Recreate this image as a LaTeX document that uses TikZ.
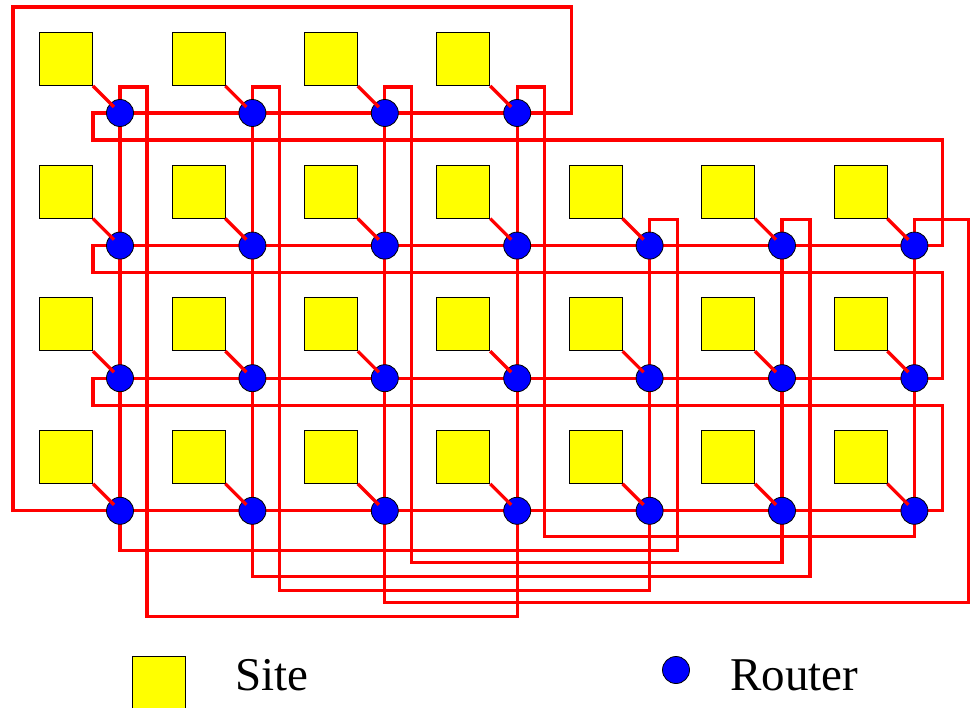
\documentclass[tikz,border=0pt]{standalone}
\usepackage{fontspec}
\setmainfont{Liberation Serif}
\newfontfamily\keyfont{Liberation Serif}
\usetikzlibrary{calc}
\pgfdeclarelayer{wires}
\pgfsetlayers{wires,main}
\definecolor{SiteYellow}{RGB}{255,255,0}
\definecolor{RouterBlue}{RGB}{0,0,255}
\definecolor{WireRed}{RGB}{255,0,0}

\begin{document}
\begin{tikzpicture}[
  x=1pt, y=-1pt,
  router/.style={circle, draw=black, line width=0.8pt, fill=RouterBlue,
                 minimum size=27pt, inner sep=0pt},
  site/.style={rectangle, draw=black, line width=0.8pt, fill=SiteYellow,
               minimum size=53pt, inner sep=0pt},
  wire/.style={draw=WireRed, line width=3.3pt},
  legend/.style={font=\keyfont\fontsize{47}{50}\selectfont, inner sep=0pt, anchor=base west}
]
\useasboundingbox (0,0) rectangle (975,708);

% routers, each with its site
\foreach \i/\n in {0/3, 1/6, 2/6, 3/6} {
  \foreach \j in {0,...,\n} {
    \node[router] (r-\i-\j) at ({120+132.4*\j},{113+132.6*\i}) {};
    \node[site, anchor=south east] (s-\i-\j) at ($(r-\i-\j)+(-27,-27)$) {};
    \draw[wire] (s-\i-\j.south east) -- ($(r-\i-\j)+(-6,-6)$);
  }
}

\begin{pgfonlayer}{wires}
% rows and columns
\draw[wire] (r-0-0.center) -- (r-0-3.center);
\foreach \i in {1,2,3} \draw[wire] (r-\i-0.center) -- (r-\i-6.center);
\foreach \j in {0,...,3} \draw[wire] (r-0-\j.center) -- (r-3-\j.center);
\foreach \j in {4,5,6} \draw[wire] (r-1-\j.center) -- (r-3-\j.center);
% row wrap-arounds
\foreach \i/\k in {0/1, 1/2, 2/3}
  \draw[wire] (r-\i-0.center) -- ++(-27,0) -- ++(0,27) -| ($(r-\k-6)+(28,0)$) -- (r-\k-6.center);
\draw[wire] (r-0-3.center) -- ++(54,0) -- ++(0,-106) -| ($(r-3-0)+(-107,0)$) -- (r-3-0.center);
% column wrap-arounds
\foreach \j/\k/\d in {0/3/106, 1/4/80, 2/5/52, 3/6/26}
  \draw[wire] (r-0-\j.center) -- ++(0,-26) -- ++(27,0) |- ($(r-3-\k)+(0,\d)$) -- (r-3-\k.center);
\foreach \j/\k/\w/\d in {4/0/28/40, 5/1/28/66, 6/2/54/92}
  \draw[wire] (r-1-\j.center) -- ++(0,-26) -- ++(\w,0) |- ($(r-3-\k)+(0,\d)$) -- (r-3-\k.center);
\end{pgfonlayer}

% legend
\node[site] (key-site) at (159,682.5) {};
\node[legend] (key-site-text) at (235,690) {Site};
\node[router] (key-router) at (676,670) {};
\node[legend] (key-router-text) at (730,690) {Router};
\end{tikzpicture}
\end{document}
